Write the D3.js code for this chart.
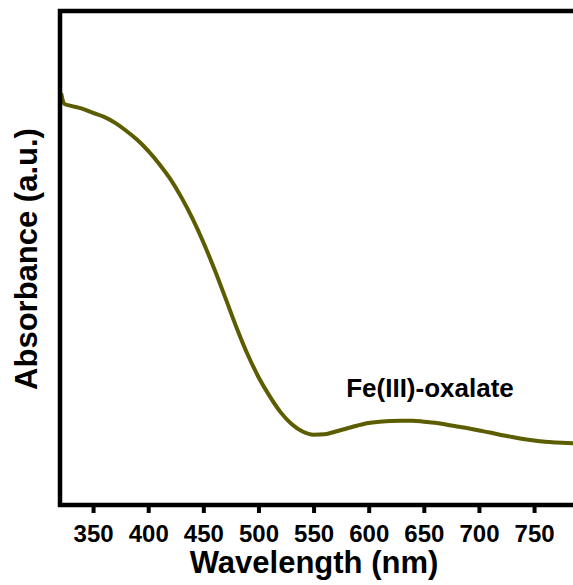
<!DOCTYPE html>
<html>
<head>
<meta charset="utf-8">
<script src="https://cdn.jsdelivr.net/npm/d3@7/dist/d3.min.js"></script>
<style>
  body { margin: 0; background: #fff; }
  text { font-family: "Liberation Sans", Arial, sans-serif; font-weight: bold; }
</style>
</head>
<body>
<div id="chart-area"></div>
<script>
// Fe(III)-oxalate absorbance spectrum

// data
const wavelength = [321, 324, 330, 340, 350, 360, 370, 380, 390, 400, 410, 420, 430, 440, 450,
  460, 470, 480, 490, 500, 510, 520, 530, 540, 550, 560, 570, 580, 590, 600, 610, 620, 630,
  640, 650, 660, 670, 680, 690, 700, 710, 720, 730, 740, 750, 760, 770, 780, 790]
const absorbance = [1.042, 1.015, 1.010, 1.003, 0.992, 0.982, 0.967, 0.947, 0.924, 0.896, 0.863,
  0.825, 0.779, 0.726, 0.665, 0.597, 0.524, 0.450, 0.382, 0.324, 0.276, 0.235, 0.205, 0.186,
  0.178, 0.179, 0.186, 0.1936, 0.2012, 0.2075, 0.2105, 0.2126, 0.2133, 0.2131, 0.2108, 0.2083,
  0.2037, 0.1986, 0.1941, 0.1885, 0.1835, 0.1771, 0.1721, 0.167, 0.163, 0.160, 0.1582, 0.1569, 0.1561]
const xTicks = [350, 400, 450, 500, 550, 600, 650, 700, 750]
const label = "Fe(III)-oxalate"

const W = 573, H = 585
const LEFT = 60, TOP = 11, BOTTOM = 505

const svg = d3.select("#chart-area").append("svg")
    .attr("width", W)
    .attr("height", H)

const x = d3.scaleLinear()
    .domain([320, 790])
    .range([LEFT, LEFT + 470 * 1.1025])

const y = d3.scaleLinear()
    .domain([0, 1.25])
    .range([BOTTOM, TOP])

// spectrum
const data = wavelength.map((w, i) => ({ w: w, a: absorbance[i] }))
const line = d3.line()
    .x(d => x(d.w))
    .y(d => y(d.a))
    .curve(d3.curveMonotoneX)

svg.append("path")
    .datum(data)
    .attr("fill", "none")
    .attr("stroke", "#5c5c00")
    .attr("stroke-width", 4)
    .attr("d", line)

// x axis ticks
const xAxis = svg.append("g")
    .attr("transform", `translate(0, ${BOTTOM})`)
    .call(d3.axisBottom(x).tickValues(xTicks).tickSize(8).tickSizeOuter(0).tickPadding(12))

xAxis.select(".domain").remove()
xAxis.selectAll(".tick line")
    .attr("stroke", "#000")
    .attr("stroke-width", 4)
xAxis.selectAll(".tick text")
    .attr("fill", "#000")
    .attr("font-size", "24px")
    .attr("font-family", null)

// frame: left, top, bottom
svg.append("path")
    .attr("d", `M${x.range()[1]},${TOP}H${LEFT}V${BOTTOM}H${x.range()[1]}`)
    .attr("fill", "none")
    .attr("stroke", "#000")
    .attr("stroke-width", 4.5)
    .attr("stroke-linejoin", "miter")

// axis titles
svg.append("text")
    .attr("x", 314)
    .attr("y", 573)
    .attr("text-anchor", "middle")
    .attr("font-size", "31px")
    .text("Wavelength (nm)")

svg.append("text")
    .attr("transform", "rotate(-90)")
    .attr("x", -259)
    .attr("y", 37)
    .attr("text-anchor", "middle")
    .attr("font-size", "31px")
    .text("Absorbance (a.u.)")

// annotation
svg.append("text")
    .attr("x", 430)
    .attr("y", 397)
    .attr("text-anchor", "middle")
    .attr("font-size", "26px")
    .text(label)
</script>
</body>
</html>
